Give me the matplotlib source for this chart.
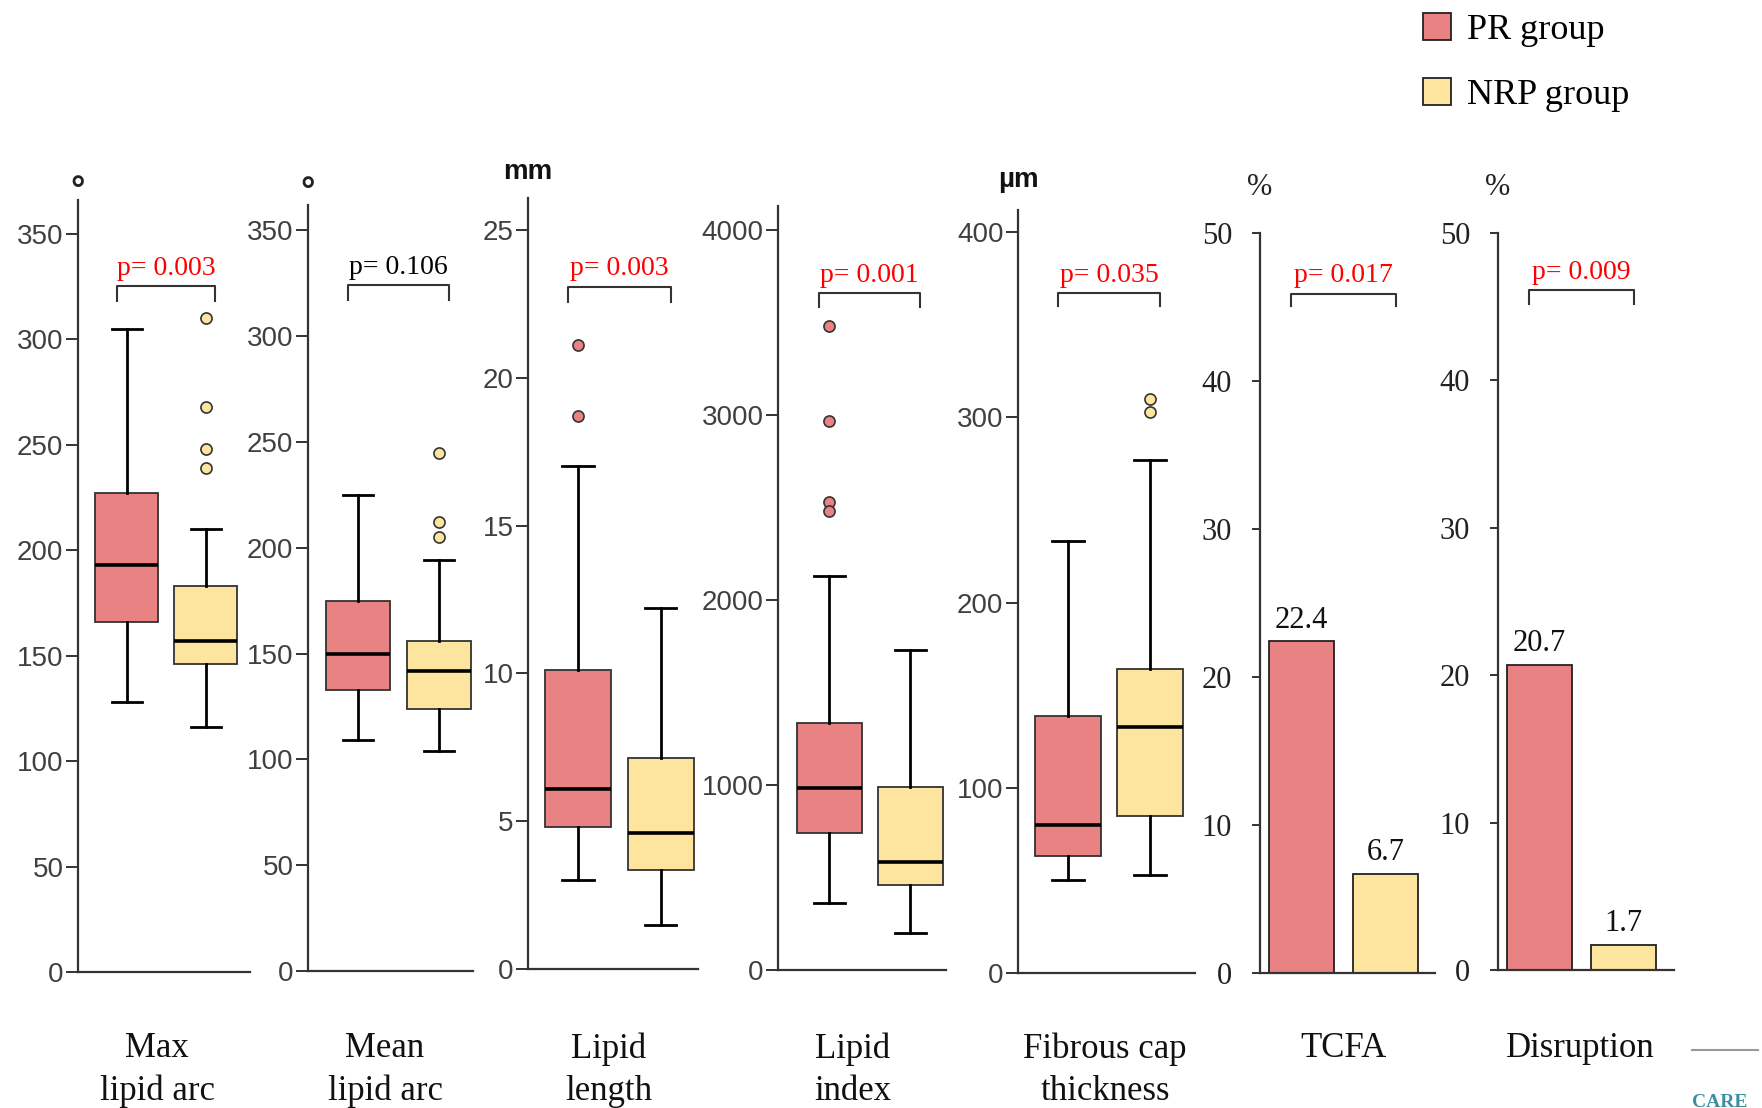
import matplotlib
matplotlib.use("Agg")
import matplotlib.pyplot as plt
from matplotlib.patches import Patch
from matplotlib.lines import Line2D

# ---- data ----
categories = ["Max\nlipid arc", "Mean\nlipid arc", "Lipid\nlength", "Lipid\nindex",
              "Fibrous cap\nthickness", "TCFA", "Disruption"]
groups = ["PR group", "NRP group"]
p_labels = ["p= 0.003", "p= 0.106", "p= 0.003", "p= 0.001", "p= 0.035", "p= 0.017", "p= 0.009"]
p_significant = [True, False, True, True, True, True, True]
units = ["°", "°", "mm", "", "µm", "%", "%"]

# box stats: whislo, q1, med, q3, whishi  (+ outliers)
max_arc_pr = [128, 166, 193, 227, 305]
max_arc_pr_out = []
max_arc_nrp = [116, 146, 157, 183, 210]
max_arc_nrp_out = [310, 268, 248, 239]

mean_arc_pr = [109, 133, 150, 175, 225]
mean_arc_pr_out = []
mean_arc_nrp = [104, 124, 142, 156, 194]
mean_arc_nrp_out = [245, 212, 205]

lipid_len_pr = [3.0, 4.8, 6.1, 10.1, 17.0]
lipid_len_pr_out = [21.1, 18.7]
lipid_len_nrp = [1.5, 3.35, 4.6, 7.15, 12.2]
lipid_len_nrp_out = []

lipid_idx_pr = [360, 740, 985, 1335, 2130]
lipid_idx_pr_out = [3480, 2970, 2530, 2480]
lipid_idx_nrp = [200, 460, 585, 990, 1730]
lipid_idx_nrp_out = []

fct_pr = [50, 63, 80, 139, 233]
fct_pr_out = []
fct_nrp = [53, 85, 133, 164, 277]
fct_nrp_out = [310, 303]

# percentages
tcfa_pct = [22.4, 6.7]
disruption_pct = [20.7, 1.7]

yticks = [range(0, 351, 50), range(0, 351, 50), range(0, 26, 5),
          range(0, 4001, 1000), range(0, 401, 100), range(0, 51, 10), range(0, 51, 10)]

# ---- layout (pixels of the 1762x1108 output) ----
W, H = 1762, 1108
# left, right, zero-line y, top y, ymax, xlim
layout = [
    (78, 250, 972, 200, 366, (0.386, 2.56)),
    (308, 473, 971, 205, 362, (0.383, 2.42)),
    (528, 698, 969, 198, 26.08, (0.40, 2.45)),
    (778, 946, 970, 206, 4130, (0.37, 2.44)),
    (1018, 1195, 973, 210, 412, (0.39, 2.55)),
    (1260, 1435, 973, 233, 50, (0.506, 2.59)),
    (1498, 1674, 970, 233, 50, (0.506, 2.60)),
]
bracket_top = [325, 324, 23.07, 3659, 367, 45.9, 46.1]
bracket_tip = [318, 317, 22.56, 3584, 360, 45.1, 45.2]
unit_y = [370, 368, 26.96, None, 428, 53.1, 53.1]
label_x = [157, 385, 609, 853, 1105, 1343, 1580]

PR_COLOR = "#E98282"
NRP_COLOR = "#FDE5A0"
AX_COLOR = "#333333"
SANS = ["Liberation Sans", "DejaVu Sans"]
SERIF = ["Liberation Serif", "DejaVu Serif"]

box_data = [
    (max_arc_pr, max_arc_pr_out, max_arc_nrp, max_arc_nrp_out),
    (mean_arc_pr, mean_arc_pr_out, mean_arc_nrp, mean_arc_nrp_out),
    (lipid_len_pr, lipid_len_pr_out, lipid_len_nrp, lipid_len_nrp_out),
    (lipid_idx_pr, lipid_idx_pr_out, lipid_idx_nrp, lipid_idx_nrp_out),
    (fct_pr, fct_pr_out, fct_nrp, fct_nrp_out),
]
bar_data = [tcfa_pct, disruption_pct]


def stats(vals, out):
    lo, q1, med, q3, hi = vals
    return dict(whislo=lo, q1=q1, med=med, q3=q3, whishi=hi, fliers=out)


fig = plt.figure(figsize=(W / 100, H / 100), dpi=100)

for i, (l, r, y0, y1, ymax, xl) in enumerate(layout):
    ax = fig.add_axes([l / W, 1 - y0 / H, (r - l) / W, (y0 - y1) / H])
    for s in ("top", "right"):
        ax.spines[s].set_visible(False)
    for s in ("left", "bottom"):
        ax.spines[s].set_color(AX_COLOR)
        ax.spines[s].set_linewidth(1.6)
    is_box = i < 5

    if is_box:
        pr, pr_out, nrp, nrp_out = box_data[i]
        res = ax.bxp([stats(pr, pr_out), stats(nrp, nrp_out)], positions=[1, 2],
                     widths=0.8, capwidths=0.38, patch_artist=True,
                     boxprops=dict(edgecolor=AX_COLOR, linewidth=1.3),
                     medianprops=dict(color="black", linewidth=2.6),
                     whiskerprops=dict(color="black", linewidth=2.0),
                     capprops=dict(color="black", linewidth=2.0),
                     flierprops=dict(marker="o", markersize=8, markeredgecolor=AX_COLOR,
                                     markeredgewidth=1.2))
        for patch, c in zip(res["boxes"], [PR_COLOR, NRP_COLOR]):
            patch.set_facecolor(c)
        for fl, c in zip(res["fliers"], [PR_COLOR, NRP_COLOR]):
            fl.set_markerfacecolor(c)
    else:
        vals = bar_data[i - 5]
        bars = ax.bar([1, 2], vals, width=0.77, color=[PR_COLOR, NRP_COLOR],
                      edgecolor="#222222", linewidth=1.3)
        ax.bar_label(bars, labels=[f"{v:.1f}" for v in vals], padding=5,
                     fontsize=22, family=SERIF, color="#111111")

    ax.set_xlim(*xl)
    ax.set_ylim(0, ymax)
    ax.set_xticks([])
    ax.set_yticks(list(yticks[i]))
    if is_box:
        ax.tick_params(axis="y", direction="out", length=9, width=1.4, pad=1.5,
                       labelsize=20, labelcolor="#404040", color=AX_COLOR)
        for t in ax.get_yticklabels():
            t.set_family(SANS)
    else:
        ax.tick_params(axis="y", direction="out", length=6, width=1.4, pad=14,
                       labelsize=22, labelcolor="#222222", color=AX_COLOR)
        for t in ax.get_yticklabels():
            t.set_family(SERIF)

    # significance bracket
    bx0, bx1 = 0.88, 2.12
    ax.plot([bx0, bx0, bx1, bx1], [bracket_tip[i], bracket_top[i], bracket_top[i], bracket_tip[i]],
            color=AX_COLOR, linewidth=1.5, clip_on=False)
    ax.annotate(p_labels[i], xy=(1.5, bracket_top[i]), xytext=(0, 4), textcoords="offset points",
                ha="center", va="bottom", fontsize=20, family=SERIF,
                color="red" if p_significant[i] else "black", annotation_clip=False)

    # unit label above the axis
    if units[i] == "°":
        ax.text(xl[0], unit_y[i], "°", ha="center", va="center", fontsize=26,
                family=SANS, fontweight="bold", color="#222222", clip_on=False)
    elif units[i] == "%":
        ax.text(xl[0], unit_y[i], "%", ha="center", va="center", fontsize=22,
                family=SERIF, color="#222222", clip_on=False)
    elif units[i]:
        ax.text(xl[0], unit_y[i], units[i], ha="center", va="center", fontsize=20,
                family=SANS, fontweight="bold", color="#111111", clip_on=False)

    # category label below
    fig.text(label_x[i] / W, 1 - 1032 / H, categories[i], ha="center", va="top",
             fontsize=25, family=SERIF, color="#111111", linespacing=1.38)

# legend
handles = [Patch(facecolor=PR_COLOR, edgecolor="#222222", linewidth=1.3),
           Patch(facecolor=NRP_COLOR, edgecolor="#222222", linewidth=1.3)]
fig.legend(handles, groups, loc="upper left", bbox_to_anchor=(1405 / W, 1 + 5 / H),
           frameon=False, prop=dict(family=SERIF, size=26), handlelength=0.78,
           handleheight=0.78, handletextpad=0.45, labelspacing=0.85, borderpad=0.0)

# slide remnants at the bottom right
fig.add_artist(Line2D([1692 / W, 1758 / W], [1 - 1050 / H, 1 - 1050 / H],
                      transform=fig.transFigure, color="#999999", linewidth=1.5))
fig.text(1692 / W, 1 - 1094 / H, "CARE", ha="left", va="top", fontsize=14,
         family=SERIF, fontweight="bold", color="#3A8FA0")

fig.savefig("out.png", dpi=100)
